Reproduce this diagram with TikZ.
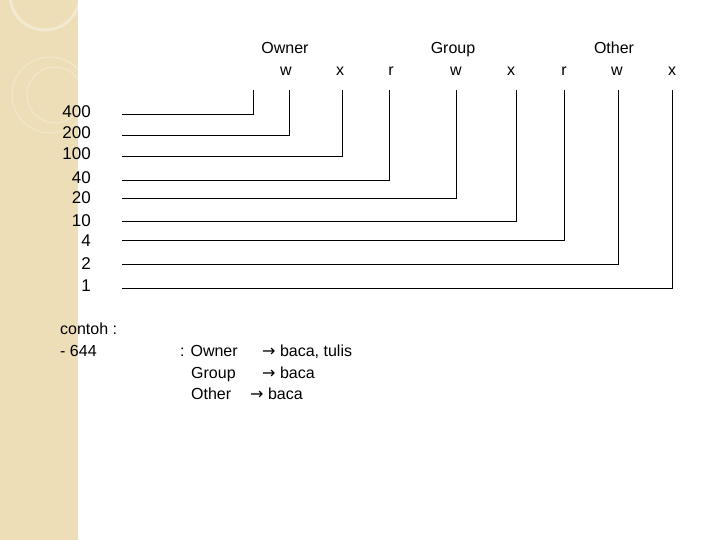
\documentclass[tikz,border=0pt]{standalone}
\usepackage{fontspec}
\setmainfont{Liberation Sans}
\newfontfamily\arrowfont{DejaVu Sans}
\begin{document}
\begin{tikzpicture}[x=1pt,y=-1pt,
  txt/.style={inner sep=0pt,text height=11pt,text depth=3pt,font=\fontsize{16}{18}\selectfont},
  num/.style={txt,anchor=east,font=\fontsize{17}{19}\selectfont},
  wire/.style={draw=black,line width=0.8pt}]
\useasboundingbox (0,0) rectangle (720,540);
\fill[white] (0,0) rectangle (720,540);
\fill[fill={rgb,255:red,238;green,222;blue,184}] (0,0) rectangle (78,540);
\begin{scope}
\clip (0,0) rectangle (78,540);
\draw[white,opacity=0.35,line width=3pt] (45,-5) circle (35);
\draw[white,opacity=0.3,line width=1pt] (50,95) circle (38);
\draw[white,opacity=0.3,line width=1pt] (55,95) circle (28);
\end{scope}
% headers
\node[txt] (hO) at (285,50) {Owner};
\node[txt] (hG) at (453,50) {Group};
\node[txt] (hT) at (614,50) {Other};
\foreach \n/\x/\t in {l2/286/w,l3/340/x,l4/391/r,l5/456/w,l6/511/x,l7/564/r,l8/617/w,l9/672/x}
  \node[txt] (\n) at (\x,72) {\t};
% numbers
\foreach \n/\y/\t in {n1/114/400,n2/135/200,n3/156/100,n4/180/40,n5/200/20,n6/222/10,n7/243/4,n8/265/2,n9/287/1}
  \node[num] (\n) at (91,\y) {\t};
% connector ends
\foreach \i/\x/\y in {1/253/114,2/289/135,3/342/156,4/389/180,5/456/198,6/516/221,7/564/240,8/618/264,9/672/288}{
  \coordinate (s\i) at (122,\y);
  \coordinate (t\i) at (\x,90);
  \draw[wire] (s\i) -| (t\i);
}
% example
\node[txt,anchor=west] (c1) at (60,330) {contoh :};
\node[txt,anchor=west] (c2) at (60,352) {- 644};
\node[txt,anchor=west] (e1) at (180,352) {: Owner};
\node[txt,anchor=west] (e2) at (191,374) {Group};
\node[txt,anchor=west] (e3) at (191,395) {Other};
\node[txt,anchor=west] (a1) at (262,352) {{\arrowfont →} baca, tulis};
\node[txt,anchor=west] (a2) at (262,374) {{\arrowfont →} baca};
\node[txt,anchor=west] (a3) at (250,395) {{\arrowfont →} baca};
\end{tikzpicture}
\end{document}
